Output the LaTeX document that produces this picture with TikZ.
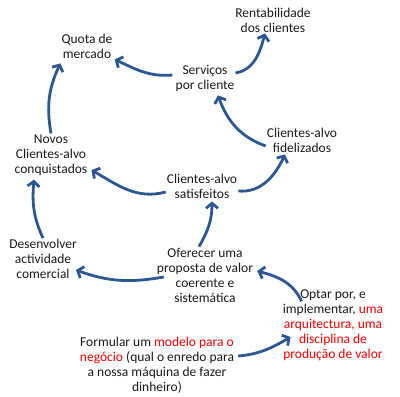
\documentclass[tikz,border=0pt]{standalone}
\usepackage{fontspec}
\setmainfont{Carlito}
\usetikzlibrary{positioning,arrows.meta}
\definecolor{loopblue}{RGB}{44,87,145}
\definecolor{loopred}{RGB}{235,0,0}
\newcommand{\hl}[1]{\textcolor{loopred}{#1}}
\tikzset{
  textnode/.style={align=center, inner sep=1pt, font=\fontsize{13.5}{15}\selectfont, text=black!90},
  looparrow/.style={-{Straight Barb[length=5pt,width=12pt]}, loopblue, line width=2.8pt}
}

\begin{document}
\begin{tikzpicture}[x=1pt,y=-1pt]
  \useasboundingbox (0,0) rectangle (400,397);
  \node[textnode] (rent) at (273,20) {Rentabilidade\\dos clientes};
  \node[textnode] (quota) at (87,46) {Quota de\\mercado};
  \node[textnode] (serv) at (205,78) {Serviços\\por cliente};
  \node[textnode] (fid) at (302,140) {Clientes-alvo\\fidelizados};
  \node[textnode] (novos) at (51,155) {Novos\\Clientes-alvo\\conquistados};
  \node[textnode] (sat) at (202,186) {Clientes-alvo\\satisfeitos};
  \node[textnode] (desenv) at (43,259) {Desenvolver\\actividade\\comercial};
  \node[textnode] (oferta) at (205,275) {Oferecer uma\\proposta de valor\\coerente e\\sistemática};
  \node[textnode] (optar) at (333,325) {Optar por, e\\implementar, \hl{uma}\\\hl{arquitectura, uma}\\\hl{disciplina de}\\\hl{produção de valor}};
  \node[textnode] (modelo) at (157,365) {Formular um \hl{modelo para o}\\\hl{negócio} (qual o enredo para\\a nossa máquina de fazer\\dinheiro)};

  \draw[looparrow] ([xshift=-2pt,yshift=3pt]serv.west) to[out=185,in=-25] ([xshift=1pt]quota.south east);
  \draw[looparrow] ([yshift=5pt]serv.east) to[out=10,in=-105] ([xshift=-8pt]rent.south);
  \draw[looparrow] ([yshift=-6pt]fid.west) to[out=160,in=-70] ([xshift=13pt,yshift=-3pt]serv.south);
  \draw[looparrow] ([yshift=-5pt]sat.east) to[out=-5,in=-115] ([xshift=-17pt,yshift=-1pt]fid.south);
  \draw[looparrow] ([yshift=-6pt]sat.west) to[out=195,in=-30] ([xshift=3pt,yshift=-15pt]novos.east);
  \draw[looparrow] (novos.north) to[out=100,in=-115] ([yshift=-4pt]quota.south west);
  \draw[looparrow] (desenv.north) to[out=115,in=-95] ([xshift=-17pt,yshift=-3pt]novos.south);
  \draw[looparrow] ([xshift=-6pt]oferta.north) to[out=60,in=-90] ([xshift=10pt,yshift=-2pt]sat.south);
  \draw[looparrow] ([xshift=8pt,yshift=-2pt]oferta.west) to[out=190,in=-20] ([xshift=-2pt,yshift=-11pt]desenv.east);
  \draw[looparrow] ([xshift=20pt,yshift=-13pt]optar.north west) to[out=115,in=-15] ([xshift=3pt,yshift=4pt]oferta.east);
  \draw[looparrow] ([xshift=3pt,yshift=9pt]modelo.east) to[out=5,in=-150] ([xshift=9pt,yshift=-12pt]optar.west);
\end{tikzpicture}
\end{document}
